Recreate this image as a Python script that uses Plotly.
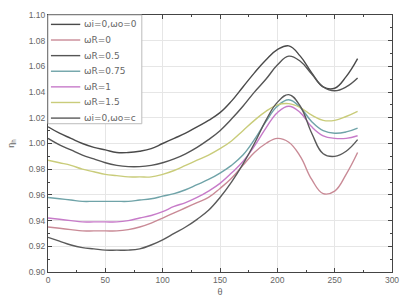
import plotly.graph_objects as go

theta = list(range(0, 280, 10))

labels = ["ωi=0,ωo=0", "ωR=0", "ωR=0.5", "ωR=0.75", "ωR=1", "ωR=1.5", "ωi=0,ωo=c"]
colors = ["#4a4a4a", "#c98a96", "#555555", "#6fa3a8", "#c77bc9", "#c9cc7a", "#5a5a5a"]

s_w0 = [1.013, 1.008, 1.004, 1.000, 0.997, 0.995, 0.993, 0.993, 0.994, 0.996, 1.000, 1.004, 1.008, 1.013,
        1.018, 1.024, 1.033, 1.044, 1.055, 1.065, 1.073, 1.076, 1.068, 1.055, 1.044, 1.043, 1.052, 1.066]
s_r0 = [0.935, 0.934, 0.933, 0.932, 0.932, 0.932, 0.932, 0.933, 0.935, 0.938, 0.942, 0.946, 0.950, 0.954,
        0.958, 0.965, 0.973, 0.983, 0.993, 1.000, 1.004, 1.001, 0.990, 0.972, 0.961, 0.963, 0.976, 0.993]
s_r05 = [1.004, 0.999, 0.995, 0.991, 0.988, 0.985, 0.983, 0.982, 0.982, 0.983, 0.985, 0.988, 0.992, 0.997,
         1.003, 1.010, 1.019, 1.029, 1.040, 1.050, 1.061, 1.068, 1.064, 1.054, 1.044, 1.041, 1.044, 1.051]
s_r075 = [0.958, 0.957, 0.956, 0.955, 0.955, 0.955, 0.955, 0.955, 0.956, 0.957, 0.959, 0.961, 0.964, 0.968,
          0.972, 0.977, 0.983, 0.991, 1.003, 1.017, 1.029, 1.034, 1.028, 1.017, 1.010, 1.008, 1.009, 1.012]
s_r1 = [0.942, 0.941, 0.940, 0.939, 0.939, 0.939, 0.939, 0.940, 0.942, 0.944, 0.947, 0.951, 0.954, 0.958,
        0.963, 0.969, 0.977, 0.986, 0.998, 1.012, 1.024, 1.029, 1.024, 1.013, 1.006, 1.004, 1.004, 1.006]
s_r15 = [0.987, 0.985, 0.983, 0.980, 0.978, 0.976, 0.975, 0.974, 0.974, 0.974, 0.976, 0.979, 0.983, 0.987,
         0.991, 0.996, 1.002, 1.010, 1.018, 1.025, 1.030, 1.031, 1.028, 1.022, 1.018, 1.018, 1.021, 1.025]
s_wc = [0.927, 0.924, 0.921, 0.919, 0.918, 0.917, 0.917, 0.917, 0.918, 0.921, 0.925, 0.930, 0.935, 0.941,
        0.948, 0.958, 0.970, 0.984, 1.000, 1.018, 1.032, 1.038, 1.029, 1.008, 0.992, 0.990, 0.994, 1.003]

series = [s_w0, s_r0, s_r05, s_r075, s_r1, s_r15, s_wc]

x_ticks = [0, 50, 100, 150, 200, 250, 300]
y_ticks = [0.90, 0.92, 0.94, 0.96, 0.98, 1.00, 1.02, 1.04, 1.06, 1.08, 1.10]

fig = go.Figure()
for lab, col, ys in zip(labels, colors, series):
    fig.add_trace(go.Scatter(x=theta, y=ys, name=lab, mode="lines", showlegend=False,
                             line=dict(color=col, width=1.4, shape="spline", smoothing=1.2)))

axis_common = dict(showline=True, linecolor="#444", linewidth=1.2, mirror="ticks",
                   ticks="inside", ticklen=4, tickcolor="#444",
                   showgrid=True, gridcolor="#e6e6e6", gridwidth=1, zeroline=False,
                   tickfont=dict(family="Liberation Sans, Arial", size=8.5, color="#666"),
                   minor=dict(ticks="inside", ticklen=2, tickcolor="#444", showgrid=False))

fig.update_xaxes(range=[0, 300], tickvals=x_ticks, ticktext=[str(v) for v in x_ticks],
                 title=dict(text="θ", font=dict(size=9, color="#666"), standoff=4),
                 minor_dtick=25, **axis_common)
fig.update_yaxes(range=[0.90, 1.10], tickvals=y_ticks, ticktext=[f"{v:.2f}" for v in y_ticks],
                 title=dict(text="η<sub>h</sub>", font=dict(size=9, color="#666"), standoff=12),
                 minor_dtick=0.01, **axis_common)

# Compact legend box (paper coordinates), drawn as layout decorations
W, H = 409, 306
ml, mr, mt, mb = 47, 10, 13, 33
pw, ph = W - ml - mr, H - mt - mb

def px_x(p):
    return (p - ml) / pw

def px_y(p):
    return (H - mb - p) / ph

shapes = [dict(type="rect", xref="paper", yref="paper", layer="above",
               x0=px_x(47), x1=px_x(143), y0=px_y(123), y1=px_y(13),
               fillcolor="white", line=dict(color="#bbb", width=1))]
annotations = []
for i, (lab, col) in enumerate(zip(labels, colors)):
    yy = px_y(22.5 + 15.8 * i)
    shapes.append(dict(type="line", xref="paper", yref="paper", layer="above",
                       x0=px_x(50), x1=px_x(80), y0=yy, y1=yy,
                       line=dict(color=col, width=1.4)))
    annotations.append(dict(xref="paper", yref="paper", x=px_x(82), y=yy, text=lab,
                            showarrow=False, xanchor="left", yanchor="middle",
                            font=dict(family="DejaVu Sans", size=9, color="#666")))

fig.update_layout(
    width=W, height=H,
    margin=dict(l=ml, r=mr, t=mt, b=mb),
    paper_bgcolor="white", plot_bgcolor="white",
    font=dict(family="Liberation Sans, Arial", color="#555"),
    showlegend=False,
    shapes=shapes,
    annotations=annotations,
)

fig.write_html("out.html")
